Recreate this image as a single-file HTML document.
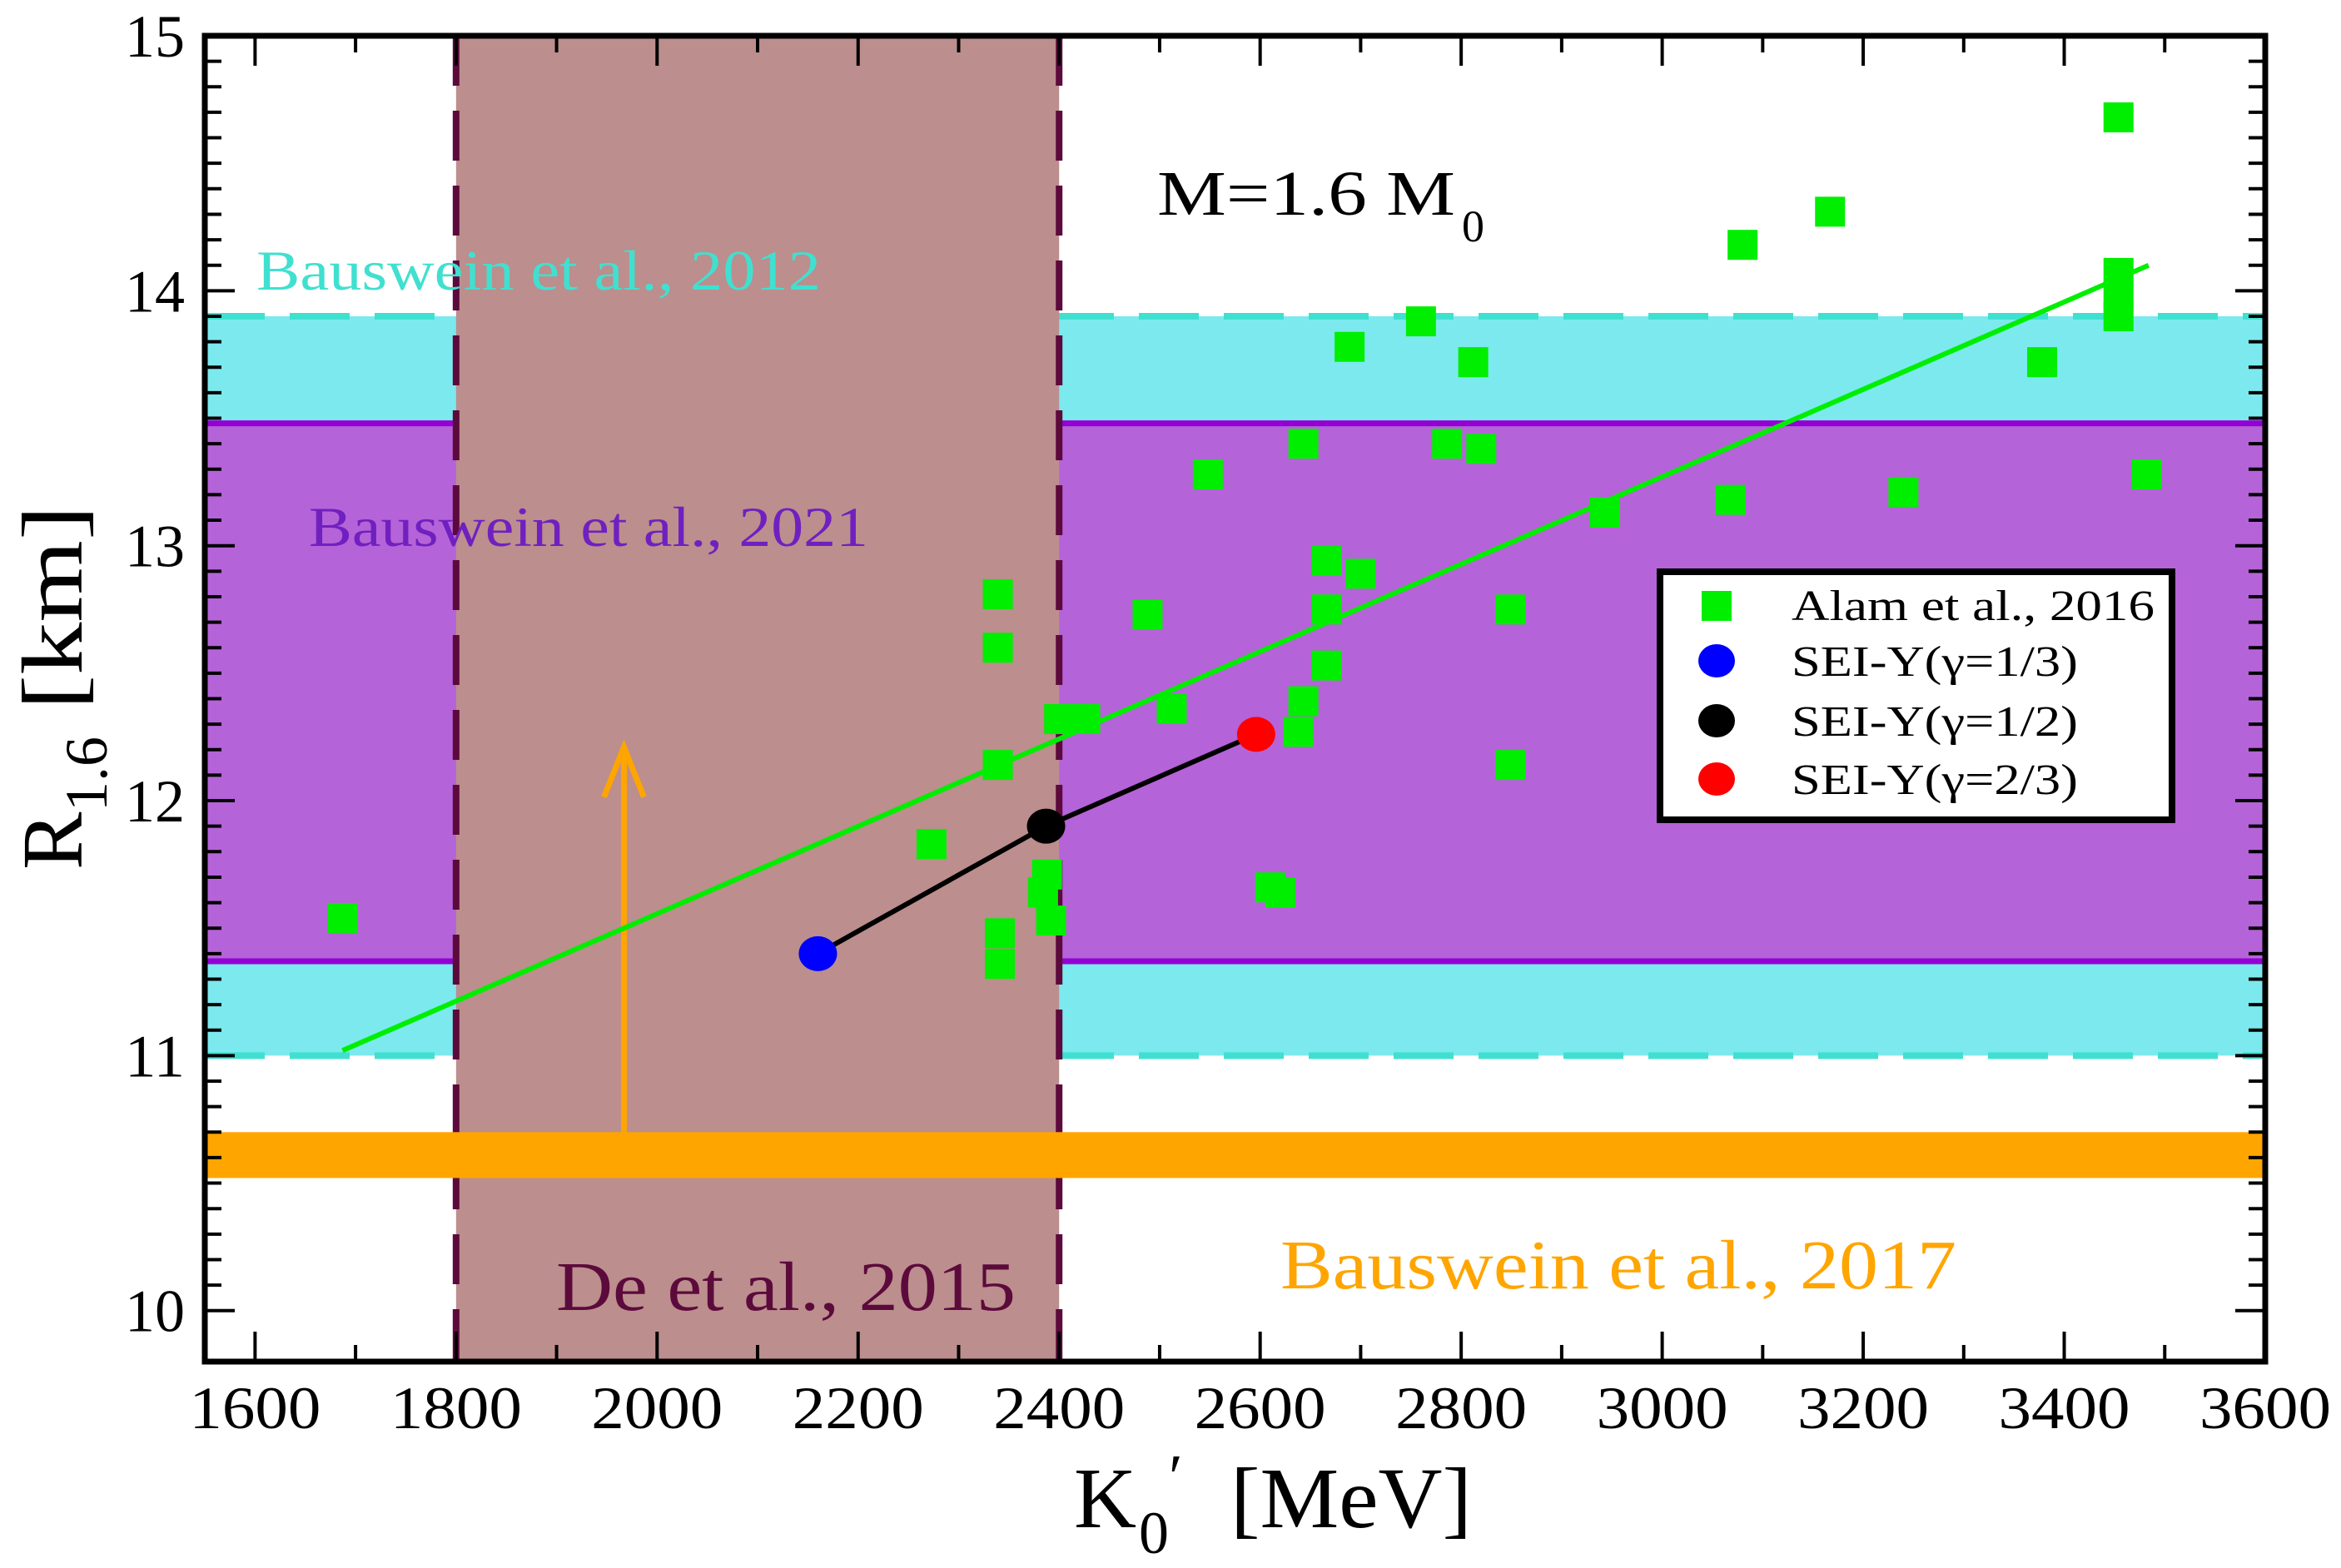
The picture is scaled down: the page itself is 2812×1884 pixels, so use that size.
<!DOCTYPE html>
<html><head><meta charset="utf-8"><style>
html,body{margin:0;padding:0;background:#fff}
svg{display:block;font-family:"Liberation Serif",serif}
</style></head><body>
<svg id="chart" xmlns="http://www.w3.org/2000/svg" width="2812" height="1884" viewBox="0 0 2812 1884">
<g id="bands"></g>
<g id="marks"></g>
<g id="axes"></g>
<g id="labels"></g>
</svg>
<script>
const alamK = [1687,2273,2339,2339,2339,2341,2341,2384,2388,2392,2400,2426,2488,2512,2548,2610,2620,2638,2643,2643,2666,2666,2666,2700,2689,2760,2786,2820,2812,2849,2849,2943,3068,3080,3167,3240,3378,3454,3454,3454,3454,3482];
const alamR = [11.54,11.83,12.81,12.60,12.14,11.48,11.36,11.64,11.71,11.53,12.32,12.32,12.73,12.36,13.28,11.66,11.64,12.27,12.39,13.40,12.94,12.75,12.53,12.89,13.78,13.88,13.40,13.38,13.72,12.75,12.14,13.13,13.18,14.18,14.31,13.21,13.72,14.68,14.07,13.98,13.90,13.28];
const fitK = [1687,3484];
const fitR = [11.02,14.10];
const seiK = [2160,2387,2596];
const seiR = [11.40,11.90,12.26];
const seiColors = ["#0000ff","#000000","#ff0000"];
const xTicks = [1600,1800,2000,2200,2400,2600,2800,3000,3200,3400,3600];
const yTicks = [10,11,12,13,14,15];
const cyanBand = [11.0,13.9];
const purpleBand = [11.37,13.48];
const orangeBand = [10.52,10.70];
const deBand = [1800,2400];
const arrowK = [1967];
const arrowR = [10.70,12.21];

const L=246,R=2721,T=43,B=1636,XMIN=1550,XMAX=3600,YMIN=9.8,YMAX=15;
const X=v=>L+(v-XMIN)/(XMAX-XMIN)*(R-L);
const Y=v=>T+(YMAX-v)/(YMAX-YMIN)*(B-T);
const NS="http://www.w3.org/2000/svg";
function mk(tag,attrs,parent){const e=document.createElementNS(NS,tag);for(const k in attrs)e.setAttribute(k,attrs[k]);parent.appendChild(e);return e;}
const bands=document.getElementById('bands'),marks=document.getElementById('marks'),axes=document.getElementById('axes'),labels=document.getElementById('labels');

let e;
e=mk('rect',{x:L,y:Y(cyanBand[1]),width:R-L,height:Y(cyanBand[0])-Y(cyanBand[1]),fill:'#7ce9ee'},bands);


e=mk('rect',{x:L,y:Y(purpleBand[1]),width:R-L,height:Y(purpleBand[0])-Y(purpleBand[1]),fill:'#b563d8'},bands);


for(const v of purpleBand){e=mk('line',{x1:L,x2:R,y1:Y(v),y2:Y(v),stroke:'#9400d3','stroke-width':7},bands);

}
for(const v of cyanBand){e=mk('line',{x1:L,x2:R,y1:Y(v),y2:Y(v),stroke:'#40e0d0','stroke-width':8,'stroke-dasharray':'72,30'},bands);

}
e=mk('rect',{x:X(deBand[0]),y:T,width:X(deBand[1])-X(deBand[0]),height:B-T,fill:'#bc8e8d'},bands);


for(const v of deBand){e=mk('line',{x1:X(v),x2:X(v),y1:T,y2:B,stroke:'#5c0a3c','stroke-width':8,'stroke-dasharray':'60,30'},bands);

}
e=mk('rect',{x:L,y:Y(orangeBand[1]),width:R-L,height:Y(orangeBand[0])-Y(orangeBand[1]),fill:'#ffa500'},bands);



const ax=X(arrowK[0]),ay0=Y(arrowR[0]),ay1=Y(arrowR[1]);
e=mk('line',{x1:ax,x2:ax,y1:ay0,y2:ay1+4,stroke:'#ffa500','stroke-width':7},marks);


e=mk('polyline',{points:`${ax-24},${ay1+60} ${ax},${ay1} ${ax+24},${ay1+60}`,fill:'none',stroke:'#ffa500','stroke-width':7},marks);



e=mk('line',{x1:X(fitK[0]),y1:Y(fitR[0]),x2:X(fitK[1]),y2:Y(fitR[1]),stroke:'#00ee00','stroke-width':6},marks);


for(let i=0;i<alamK.length;i++){
  e=mk('rect',{x:X(alamK[i])-18,y:Y(alamR[i])-18,width:36,height:36,fill:'#00ee00'},marks);
  
  
}
e=mk('polyline',{points:seiK.map((k,i)=>X(k)+','+Y(seiR[i])).join(' '),fill:'none',stroke:'#000','stroke-width':6},marks);


for(let i=0;i<seiK.length;i++){
  e=mk('ellipse',{cx:X(seiK[i]),cy:Y(seiR[i]),rx:23,ry:21,fill:seiColors[i]},marks);
  
  
}

e=mk('rect',{x:L,y:T,width:R-L,height:B-T,fill:'none',stroke:'#000','stroke-width':7},axes);


for(let v=1600;v<=3600;v+=100){
  const maj=(v%200===0),len=maj?36:20,x=X(v);
  mk('line',{x1:x,x2:x,y1:B,y2:B-len,stroke:'#000','stroke-width':4},axes);
  mk('line',{x1:x,x2:x,y1:T,y2:T+len,stroke:'#000','stroke-width':4},axes);
}
for(let i=0;i<=50;i++){
  const v=10+i*0.1,maj=(i%10===0),len=maj?36:20,y=Y(v);
  mk('line',{x1:L,x2:L+len,y1:y,y2:y,stroke:'#000','stroke-width':4},axes);
  mk('line',{x1:R,x2:R-len,y1:y,y2:y,stroke:'#000','stroke-width':4},axes);
}
for(const v of xTicks){e=mk('text',{x:X(v),y:1716,'font-size':72,'text-anchor':'middle',textLength:158,lengthAdjust:'spacingAndGlyphs'},axes);e.textContent=v;

}
for(const v of yTicks){e=mk('text',{x:222,y:Y(v)+25,'font-size':72,'text-anchor':'end',textLength:72,lengthAdjust:'spacingAndGlyphs'},axes);e.textContent=v;

}
</script>
<script>
(function(){
const svg=document.getElementById('chart');
svg.insertAdjacentHTML('beforeend',`
<g font-size="104">
<text x="1290" y="1835">K</text>
<text x="1368" y="1866" font-size="72">0</text>
<text x="1404" y="1800" font-size="76">′</text>
<text x="1478" y="1835" textLength="290" lengthAdjust="spacingAndGlyphs">[MeV]</text>
</g>
<g transform="translate(98,1045) rotate(-90)" font-size="104">
<text x="0" y="0">R</text>
<text x="70" y="30" font-size="72">1.6</text>
<text x="192" y="0" textLength="246" lengthAdjust="spacingAndGlyphs">[km]</text>
</g>
<text x="1390" y="258" font-size="76" textLength="358" lengthAdjust="spacingAndGlyphs">M=1.6 M</text>
<text x="1756" y="290" font-size="54">0</text>
<text x="308" y="348" font-size="68" fill="#40e0d0" textLength="678" lengthAdjust="spacingAndGlyphs">Bauswein et al., 2012</text>
<text x="371" y="656" font-size="68" fill="#7020c0" textLength="672" lengthAdjust="spacingAndGlyphs">Bauswein et al., 2021</text>
<text x="668" y="1574" font-size="84" fill="#5c0a3c" textLength="552" lengthAdjust="spacingAndGlyphs">De et al., 2015</text>
<text x="1538" y="1548" font-size="84" fill="#ffa500" textLength="812" lengthAdjust="spacingAndGlyphs">Bauswein et al., 2017</text>
<g>
<rect x="1994" y="687" width="615" height="298" fill="#fff" stroke="#000" stroke-width="8"/>
<rect x="2044" y="710" width="36" height="36" fill="#00ee00"/>
<text x="2152" y="745" font-size="52" textLength="436" lengthAdjust="spacingAndGlyphs">Alam et al., 2016</text>
<ellipse cx="2062" cy="794" rx="22" ry="20" fill="#0000ff"/>
<text x="2152" y="812" font-size="52" textLength="344" lengthAdjust="spacingAndGlyphs">SEI-Y(γ=1/3)</text>
<ellipse cx="2062" cy="866" rx="22" ry="20" fill="#000"/>
<text x="2152" y="884" font-size="52" textLength="344" lengthAdjust="spacingAndGlyphs">SEI-Y(γ=1/2)</text>
<ellipse cx="2062" cy="936" rx="22" ry="20" fill="#ff0000"/>
<text x="2152" y="954" font-size="52" textLength="344" lengthAdjust="spacingAndGlyphs">SEI-Y(γ=2/3)</text>
</g>`);
})();
</script>
</body></html>
